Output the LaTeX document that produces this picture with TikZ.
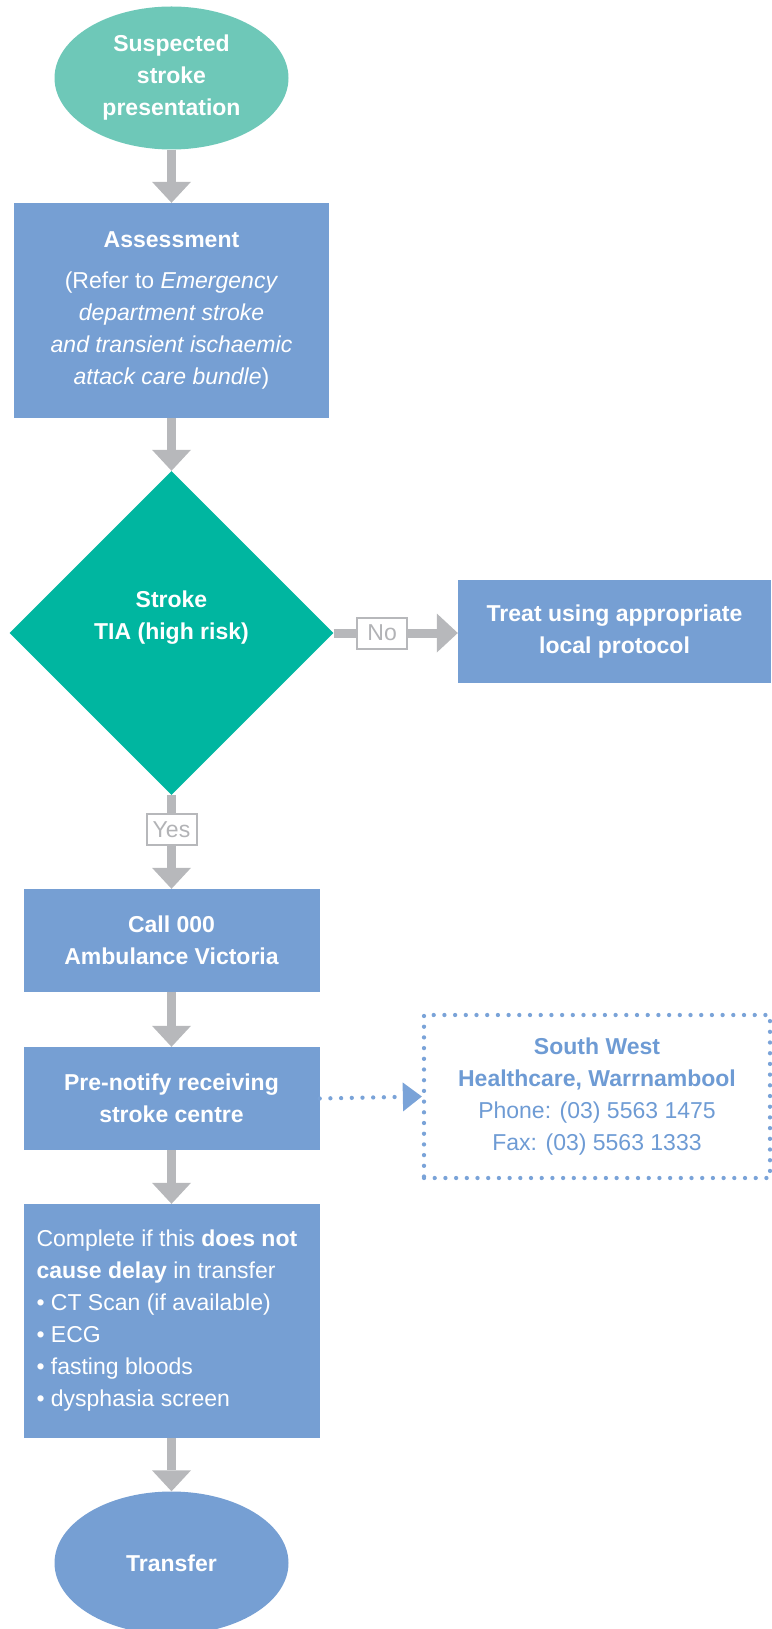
\documentclass[tikz,border=0pt]{standalone}
\usepackage{fontspec}
\setmainfont{Liberation Sans}
\usetikzlibrary{shapes.geometric,arrows.meta}

\definecolor{mintfill}{RGB}{110,200,184}
\definecolor{tealfill}{RGB}{0,182,160}
\definecolor{boxblue}{RGB}{118,159,211}
\definecolor{flowgray}{RGB}{183,184,187}
\definecolor{labelgray}{RGB}{178,179,182}
\definecolor{linkblue}{RGB}{122,163,216}
\definecolor{contactblue}{RGB}{110,155,212}

\begin{document}
\begin{tikzpicture}[
    x=1pt, y=-1pt,
    every node/.style={font=\fontsize{23}{32}\selectfont},
    terminal/.style={
        ellipse, inner sep=0pt,
        minimum width=234pt, minimum height=143pt,
        align=center, text=white,
        font=\fontsize{23}{32}\selectfont\bfseries
    },
    stepbox/.style={
        rectangle, fill=boxblue, inner sep=0pt,
        minimum width=296pt, minimum height=103pt,
        align=center, text=white,
        font=\fontsize{23}{32}\selectfont\bfseries
    },
    decision/.style={
        diamond, fill=tealfill, inner sep=0pt,
        minimum width=324pt, minimum height=324pt
    },
    choice/.style={
        draw=flowgray, line width=2pt, fill=white,
        text=labelgray, inner sep=0pt,
        minimum width=50pt, minimum height=31pt
    },
    contact/.style={
        draw=linkblue, line width=4.3pt, line cap=round,
        dash pattern=on 0pt off 10.7pt,
        minimum width=346pt, minimum height=163pt,
        align=center, text=contactblue
    },
    flow/.style={
        draw=flowgray, line width=9pt,
        -{Triangle[width=39pt, length=21pt, line width=0pt]}
    },
    link/.style={
        draw=linkblue, line width=4.3pt, line cap=round,
        dash pattern=on 0pt off 10.7pt,
        -{Triangle[width=29pt, length=19pt, line width=0pt]}
    }
]

\def\colx{171.5}

\useasboundingbox (0,0) rectangle (771,1629);

% main column
\node[terminal, fill=mintfill] (start) at (\colx,78)
    {Suspected\\stroke\\presentation};
\node[stepbox, minimum width=315pt, minimum height=215pt,
      font=\fontsize{23}{32}\selectfont] (assess) at (\colx,310.5)
    {\textbf{Assessment}\\[9pt](Refer to \textit{Emergency}\\
     \textit{department stroke}\\\textit{and transient ischaemic}\\
     \textit{attack care bundle})};
\node[decision] (decide) at (\colx,633) {};
\node[text=white, font=\fontsize{23}{32}\selectfont\bfseries, align=center]
    (decidelabel) at (\colx,618) {Stroke\\TIA (high risk)};
\node[stepbox] (call) at (\colx,940.5) {Call 000\\Ambulance Victoria};
\node[stepbox] (notify) at (\colx,1098.5) {Pre-notify receiving\\stroke centre};
\node[stepbox, minimum height=234pt, text width=270pt, inner xsep=13pt,
      align=flush left, font=\fontsize{23}{32}\selectfont] (checks) at (\colx,1321)
    {Complete if this \textbf{does not}\\\textbf{cause delay} in transfer\\
     •~CT Scan (if available)\\•~ECG\\•~fasting bloods\\•~dysphasia screen};
\node[terminal, fill=boxblue] (transfer) at (\colx,1563) {Transfer};

% side nodes
\node[stepbox, minimum width=313pt] (treat) at (614.5,631.5)
    {Treat using appropriate\\local protocol};
\node[contact] (centre) at (597,1096.5)
    {\textbf{South West}\\\textbf{Healthcare, Warrnambool}\\
     Phone: (03) 5563 1475\\Fax: (03) 5563 1333};

% connectors
\draw[flow] (start.south) -- (assess.north);
\draw[flow] (assess.south) -- (decide.north);
\draw[flow] (decide.east) -- node[choice, pos=0.39] (nolabel) {No}
    (decide.east -| treat.west);
\draw[flow] (decide.south) -- node[choice, pos=0.37] (yeslabel) {Yes}
    (call.north);
\draw[flow] (call.south) -- (notify.north);
\draw[flow] (notify.south) -- (checks.north);
\draw[flow] (checks.south) -- (transfer.north);
\draw[link] (notify.east) -- (centre.west);

\end{tikzpicture}
\end{document}
